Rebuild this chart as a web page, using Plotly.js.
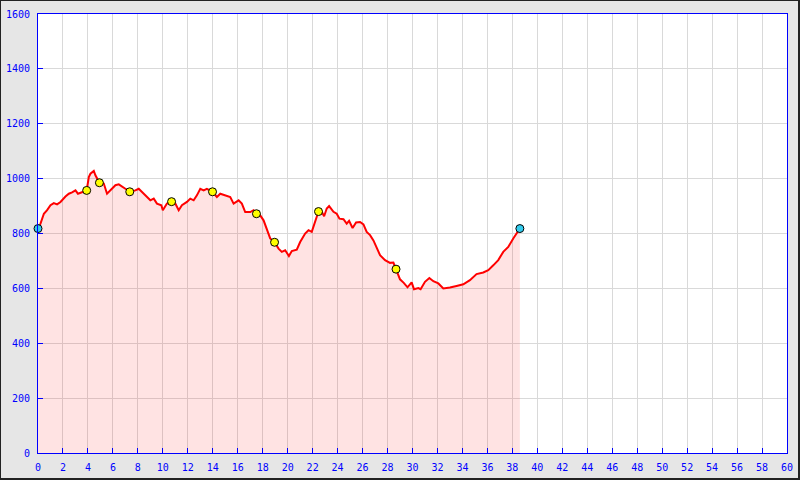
<!DOCTYPE html>
<html>
<head>
<meta charset="utf-8">
<script src="https://cdn.plot.ly/plotly-3.0.1.min.js"></script>
<style>
  html, body { margin: 0; padding: 0; background: #e6e6e6; }
  #frame { width: 800px; height: 480px; box-sizing: border-box;
           border-top: 1px solid #222; border-left: 1px solid #222;
           border-right: 2px solid #222; border-bottom: 2px solid #222; }
  #chart { width: 797px; height: 477px; }
</style>
</head>
<body>
<div id="frame"><div id="chart"></div></div>
<script>
// Profile: distance (km) and elevation (m)
const dist = [0, 0.2, 0.47, 0.73, 1.0, 1.27, 1.53, 1.8, 2.2, 2.47, 2.73, 3.0, 3.2, 3.5, 3.9,
  4.07, 4.2, 4.47, 4.6, 4.92, 5.27, 5.53, 5.8, 6.2, 6.47, 6.73, 7.0, 7.35, 7.8, 8.07, 8.33,
  8.6, 9.0, 9.27, 9.53, 9.88, 10.0, 10.33, 10.7, 11.0, 11.27, 11.53, 11.93, 12.2, 12.47,
  12.73, 13.0, 13.27, 13.53, 13.98, 14.33, 14.6, 15.0, 15.4, 15.67, 16.07, 16.33, 16.6,
  17.0, 17.27, 17.5, 17.8, 18.07, 18.33, 18.6, 18.95, 19.27, 19.53, 19.8, 20.1, 20.33,
  20.73, 21.0, 21.4, 21.67, 21.93, 22.2, 22.47, 22.73, 22.92, 23.13, 23.32, 23.67, 23.93,
  24.15, 24.47, 24.73, 24.92, 25.2, 25.48, 25.8, 26.07, 26.33, 26.6, 26.87, 27.13, 27.4,
  27.8, 28.2, 28.47, 28.68, 29.0, 29.3, 29.6, 29.93, 30.12, 30.47, 30.65, 31.0, 31.35,
  31.67, 32.07, 32.47, 33.0, 33.53, 34.07, 34.6, 35.13, 35.67, 36.07, 36.47, 36.87, 37.27,
  37.67, 38.07, 38.38, 38.6];
const elev = [818, 836, 872, 885, 903, 911, 906, 915, 935, 945, 950, 957, 945, 951, 957,
  1006, 1018, 1028, 1012, 985, 982, 945, 957, 976, 979, 972, 963, 952, 957, 963, 951,
  939, 921, 927, 909, 903, 885, 909, 916, 909, 885, 903, 915, 927, 921,
  939, 963, 957, 963, 952, 933, 945, 939, 933, 909, 921, 909, 878,
  878, 885, 872, 866, 848, 812, 782, 768, 745, 733, 739, 718, 736,
  741, 769, 800, 812, 806, 842, 880, 879, 863, 891, 900, 879, 872,
  854, 852, 836, 846, 820, 840, 842, 833, 806, 794, 775, 745, 721,
  703, 693, 694, 670, 633, 620, 604, 622, 597, 601, 597, 624, 638,
  626, 618, 600, 603, 609, 615, 630, 652, 658, 666, 684, 703, 733,
  751, 782, 802, 818];

// Waypoints
const wpDist = [3.9, 4.92, 7.35, 10.7, 13.98, 17.5, 18.95, 22.47, 28.68];
const wpElev = [957, 985, 952, 916, 952, 872, 768, 880, 670];
const endDist = [0, 38.6];
const endElev = [818, 818];

const xTicks = [0,2,4,6,8,10,12,14,16,18,20,22,24,26,28,30,32,34,36,38,40,42,44,46,48,50,52,54,56,58,60];
const yTicks = [0,200,400,600,800,1000,1200,1400,1600];

const traces = [
  { x: dist, y: elev, type: 'scatter', mode: 'lines', fill: 'tozeroy',
    fillcolor: 'rgba(255,0,0,0.11)', line: { color: '#ff0000', width: 2 },
    hoverinfo: 'skip' },
  { x: wpDist, y: wpElev, type: 'scatter', mode: 'markers',
    marker: { color: '#ffff00', size: 8, line: { color: '#000', width: 1 } },
    hoverinfo: 'skip' },
  { x: endDist, y: endElev, type: 'scatter', mode: 'markers',
    marker: { color: '#33ccee', size: 8, line: { color: '#000', width: 1 } },
    hoverinfo: 'skip', cliponaxis: false }
];

const axisFont = { family: 'DejaVu Sans Mono, monospace', size: 10, color: '#0000ff' };

const layout = {
  width: 797, height: 477,
  margin: { l: 37, r: 11, t: 13, b: 25 },
  paper_bgcolor: '#e6e6e6', plot_bgcolor: '#ffffff',
  showlegend: false,
  xaxis: { range: [0, 60], tickvals: xTicks, ticktext: xTicks.map(String),
    showline: true, linecolor: '#0000ff', linewidth: 1, mirror: true,
    ticks: 'inside', ticklen: 5, tickcolor: '#0000ff', tickwidth: 1,
    showgrid: true, gridcolor: '#d9d9d9', gridwidth: 1, zeroline: false,
    tickfont: axisFont, ticklabelstandoff: 5, fixedrange: true },
  yaxis: { range: [0, 1600], tickvals: yTicks, ticktext: yTicks.map(String),
    showline: true, linecolor: '#0000ff', linewidth: 1, mirror: true,
    ticks: 'inside', ticklen: 5, tickcolor: '#0000ff', tickwidth: 1,
    showgrid: true, gridcolor: '#d9d9d9', gridwidth: 1, zeroline: false,
    tickfont: axisFont, ticklabelstandoff: 5, fixedrange: true }
};

Plotly.newPlot('chart', traces, layout, { displayModeBar: false, staticPlot: true });
</script>
</body>
</html>
